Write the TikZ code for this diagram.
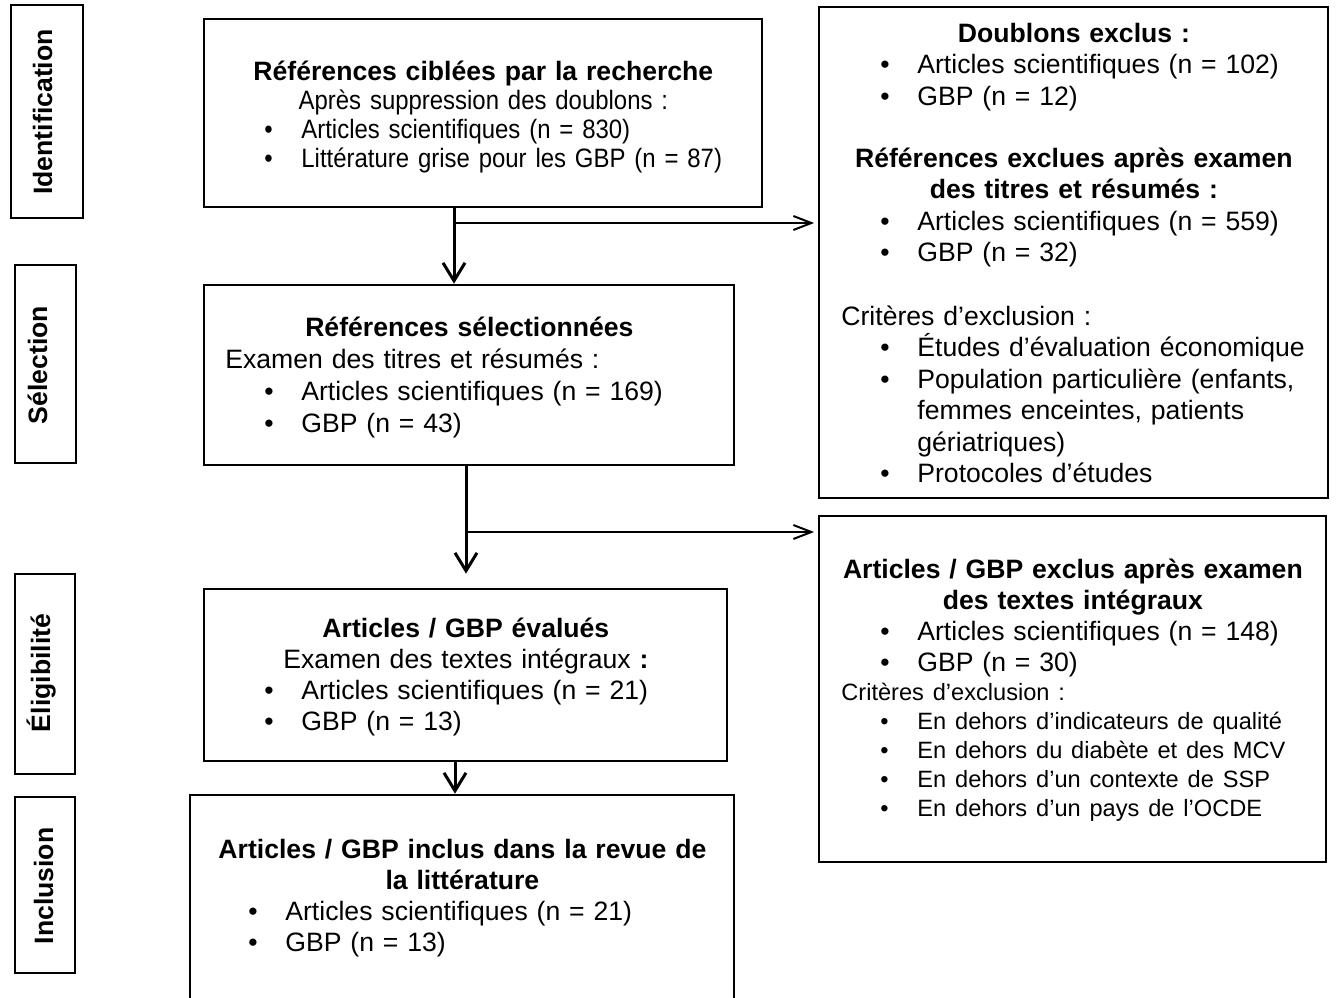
\documentclass[tikz,border=0pt]{standalone}
\usepackage{fontspec}
\setmainfont{Liberation Sans}
\newfontfamily\narrowsf[FakeStretch=0.9]{Liberation Sans}
\usetikzlibrary{arrows.meta, fit}

\newcommand\fsm{\fontsize{13.3}{15.5}\selectfont}
\newcommand\fsmall{\fontsize{11.8}{14.5}\selectfont}
\newcommand\blt[2][30pt]{\par\hangindent=\dimexpr#1+18.5pt\relax\hangafter=1
  \hspace*{#1}\makebox[18.5pt][l]{•}#2\par}

\begin{document}
\begin{tikzpicture}[x=0.5pt, y=-0.5pt,
  box/.style={draw, line width=1.3pt, inner sep=0pt},
  rbox/.style={draw, line width=0.9pt, inner sep=0pt},
  txt/.style={anchor=base west, inner sep=0pt, font=\fsm},
  lbl/.style={anchor=base, rotate=90, inner sep=0pt, font=\fsm\bfseries},
  flow/.style={line width=1.5pt, -{Straight Barb[length=9pt, width=11pt]}},
  branch/.style={line width=1pt, -{Straight Barb[length=9pt, width=7pt]}, shorten >=2pt}]
\useasboundingbox (0,0) rectangle (1338,997);
\clip (0,0) rectangle (1338,997);

\node[box, fit={(11,5) (83,218)}] (sid) {};
\node[box, fit={(15,265) (76,463)}] (ssel) {};
\node[box, fit={(15,574) (75,774)}] (selig) {};
\node[box, fit={(15,797) (75,973)}] (sinc) {};
\node[lbl] (tid) at (52,112) {Identification};
\node[lbl] (tsel) at (47,365) {Sélection};
\node[lbl] (telig) at (50,673) {Éligibilité};
\node[lbl] (tinc) at (53,886) {Inclusion};

\node[box, fit={(204,19) (762,207)}] (b1) {};
\node[box, fit={(204,285) (734,465)}] (b2) {};
\node[box, fit={(204,589) (727,761)}] (b3) {};
\node[box, fit={(190,795) (734,1010)}] (b4) {};
\node[rbox, fit={(819,7) (1328,498)}] (r1) {};
\node[rbox, fit={(819,516) (1326,862)}] (r2) {};

\node[txt, text width=279pt, font=\fontsize{13.3}{14.5}\selectfont] (b1t) at (204,80) {%
  {\centering\bfseries Références ciblées par la recherche\par}
  {\centering\narrowsf Après suppression des doublons :\par}
  {\narrowsf
  \blt{Articles scientifiques (n = 830)}
  \blt{Littérature grise pour les GBP (n = 87)}}};
\node[txt, text width=265pt, font=\fontsize{13.3}{16}\selectfont] (b2t) at (204,336) {%
  {\centering\bfseries Références sélectionnées\par}
  \hspace*{10.5pt}Examen des titres et résumés :\par
  \blt{Articles scientifiques (n = 169)}
  \blt{GBP (n = 43)}};
\node[txt, text width=261.5pt] (b3t) at (204,637) {%
  {\centering\bfseries Articles / GBP évalués\par}
  {\centering Examen des textes intégraux \textbf{:}\par}
  \blt{Articles scientifiques (n = 21)}
  \blt{GBP (n = 13)}};
\node[txt, text width=272pt] (b4t) at (190,858) {%
  {\centering\bfseries Articles / GBP inclus dans la revue de\par la littérature\par}
  \blt[29pt]{Articles scientifiques (n = 21)}
  \blt[29pt]{GBP (n = 13)}};

\node[txt, text width=254.5pt, font=\fontsize{13.3}{15.75}\selectfont] (r1t) at (819,42) {%
  {\centering\bfseries Doublons exclus :\par}
  \blt[30.5pt]{Articles scientifiques (n = 102)}
  \blt[30.5pt]{GBP (n = 12)}
  \vspace{15.25pt}
  {\centering\bfseries Références exclues après examen\par des titres et résumés :\par}
  \blt[30.5pt]{Articles scientifiques (n = 559)}
  \blt[30.5pt]{GBP (n = 32)}
  \vspace{16pt}
  \hspace*{11pt}Critères d’exclusion :\par
  \blt[30.5pt]{Études d’évaluation économique}
  \blt[30.5pt]{Population particulière (enfants,\newline femmes enceintes, patients\newline gériatriques)}
  \blt[30.5pt]{Protocoles d’études}};
\node[txt, text width=253.5pt] (r2t) at (819,578) {%
  {\centering\bfseries Articles / GBP exclus après examen\par des textes intégraux\par}
  \blt[30.5pt]{Articles scientifiques (n = 148)}
  \blt[30.5pt]{GBP (n = 30)}
  {\fsmall\hspace*{11pt}Critères d’exclusion :\par
  \blt[30.5pt]{En dehors d’indicateurs de qualité}
  \blt[30.5pt]{En dehors du diabète et des MCV}
  \blt[30.5pt]{En dehors d’un contexte de SSP}
  \blt[30.5pt]{En dehors d’un pays de l’OCDE}}};

\coordinate (j1) at (454,223);
\coordinate (j2) at (466,532);
\coordinate (j3) at (455,778);
\draw[flow] (j1 |- b1.south) -- (j1 |- b2.north);
\draw[branch] (j1) -- (j1 -| r1.west);
\draw[flow, shorten >=7pt] (j2 |- b2.south) -- (j2 |- b3.north);
\draw[branch] (j2) -- (j2 -| r2.west);
\draw[flow] (j3 |- b3.south) -- (j3 |- b4.north);
\end{tikzpicture}
\end{document}
